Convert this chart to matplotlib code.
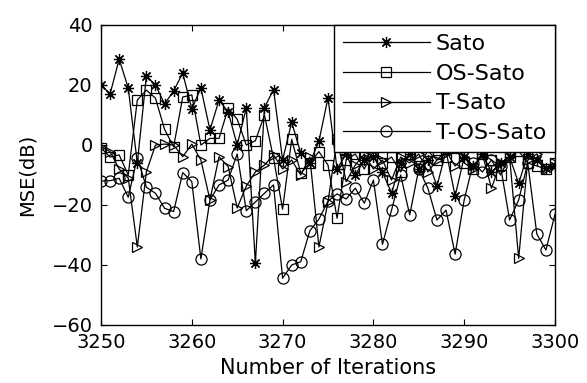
import matplotlib
matplotlib.use("Agg")
import matplotlib.pyplot as plt
import numpy as np

iterations = list(range(3250, 3301))

sato = [20, 17, 28.6, 19, -6, 23, 20, 13.7, 18, 24, 12, 19, 5, 15, 11, 0,
        12.4, -39.4, 12.4, 18.5, -5, 7.6, -2.7, -6, 1.3, 15.7,
        -8, -3, -10, -5, -4, -9, -16, -6, -3, -8, -5, -13.7, -2, -17, -4,
        -7, -3, -9, -6, -4, -12.8, -3, -5, -7.8, -7]

os_sato = [-1, -4, -3.3, -10, 15, 18.3, 15.6, 5.2, -0.6, 16, 16.7, 0, 2.2, 2.2,
           12.2, 8.6, 0, 1.4, 10, -4.4, -21.4, 1.9, -9.4, -6, -2.2, -6.7, -24.4,
           -5, -3, -8, -2, -6, -4, -9, -3, -7, -2, -5, -4, -1, -6, -8, -3, -5,
           -10, -4, -2, -6, -7, -8, -6]

t_sato = [-0.5, -2.2, -8, -11, -34, -8.9, 0, 0.3, 0, -3.9, 0.3, -5, -18.3, -3.9,
          -7.2, -21, -13.7, -9, -6.7, -3.3, -8, -5, -10, -4, -34, -19, 2,
          -12.2, -6.7, -3, -8, -5, -11.7, -4, -6, -3, -9, -5, -2, -7, -4, -8,
          -3, -14.4, -6, -4, -37.8, -5, -3, -8, -6]

t_os_sato = [-12, -11.9, -11.1, -17.4, -4.2, -14.1, -16.1, -21.1, -22.2, -9.2,
             -12.2, -38, -18.3, -13.3, -11.7, -3, -21.9, -19, -16.1, -13.3,
             -44.4, -40, -38.9, -28.6, -24.7, -18.7, -16.3, -18, -14.4, -19.4,
             -11.7, -33.1, -21.7, -10, -23.3, -8, -14.4, -25, -21.7, -36.4,
             -18.3, -6, -9, -5, -7, -25, -18.3, -6, -29.7, -35, -23.1]

labels = ["Sato", "OS-Sato", "T-Sato", "T-OS-Sato"]
x_ticks = [3250, 3260, 3270, 3280, 3290, 3300]
y_ticks = [-60, -40, -20, 0, 20, 40]

plt.rcParams['font.family'] = ['DejaVu Sans']
fig = plt.figure(figsize=(5.87, 3.83), dpi=100)
ax = fig.add_axes([101/587, 1 - 325/383, (555 - 101)/587, (325 - 25)/383])

common = dict(color='black', lw=0.9, mfc='none', mec='black', mew=0.9)
ax.plot(iterations, sato, marker=(8, 2, 0), ms=8, label=labels[0], **common)
ax.plot(iterations, os_sato, marker='s', ms=7.5, label=labels[1], **common)
ax.plot(iterations, t_sato, marker='>', ms=7, label=labels[2], **common)
ax.plot(iterations, t_os_sato, marker='o', ms=8, label=labels[3], **common)

ax.set_xlim(3250, 3300)
ax.set_ylim(-60, 40)
ax.set_xticks(x_ticks)
ax.set_yticks(y_ticks)
ax.tick_params(direction='in', top=True, right=True, length=4, width=0.8,
               labelsize=14, colors='black')
ax.tick_params(axis='x', pad=6)
ax.tick_params(axis='y', pad=6)
for s in ax.spines.values():
    s.set_linewidth(1.0)
    s.set_color('black')

ax.set_xlabel("Number of Iterations", fontsize=15, labelpad=4)
ax.set_ylabel("MSE(dB)", fontsize=14, labelpad=11)

leg = ax.legend(loc='upper right', fontsize=16, frameon=True, fancybox=False,
                framealpha=1, edgecolor='black', borderaxespad=0,
                handlelength=3.9, handletextpad=0.27, labelspacing=0.44,
                borderpad=0.4)
leg.get_frame().set_linewidth(1.0)

fig.savefig("out.png", dpi=100)
